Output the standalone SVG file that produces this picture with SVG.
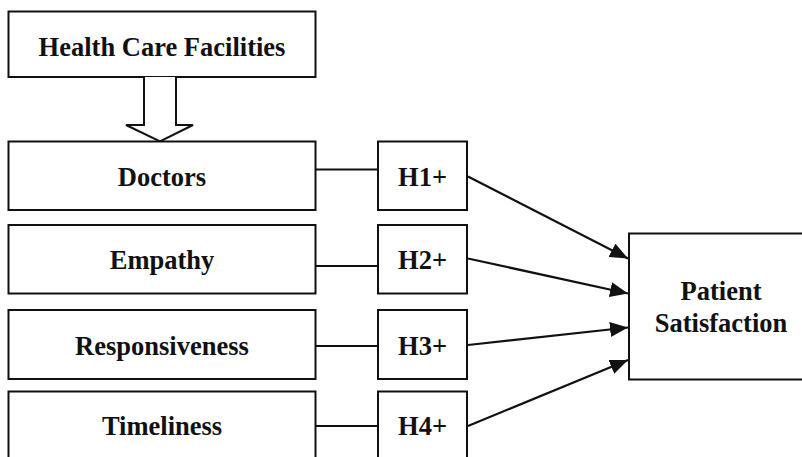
<svg xmlns="http://www.w3.org/2000/svg" width="802" height="457" viewBox="0 0 802 457">
  <style>
    .box { fill: #ffffff; stroke: #111111; stroke-width: 2; }
    .lbl { font-weight: bold; font-size: 26.5px; fill: #111111; text-anchor: middle; }
    .link { stroke: #111111; stroke-width: 2; fill: none; }
    .arrow { stroke: #111111; stroke-width: 2.2; fill: none; marker-end: url(#head); }
  </style>
  <defs>
    <marker id="head" viewBox="0 0 18 15" refX="18" refY="7.5" markerWidth="18" markerHeight="15" markerUnits="userSpaceOnUse" orient="auto">
      <path d="M0,0 L18,7.5 L0,15 Z" fill="#111111"/>
    </marker>
  </defs>

  <rect width="802" height="457" fill="#ffffff"/>

  <g font-family="'Liberation Serif', 'Times New Roman', Times, serif">
    <g id="health-care-facilities">
      <rect class="box" x="8.5" y="11.5" width="307" height="65.5"/>
      <text class="lbl" x="162" y="56">Health Care Facilities</text>
    </g>

    <!-- hollow block arrow into Doctors -->
    <g id="block-arrow">
      <path d="M144,77 L144,125 L126,125 L160,141.5 L193,125 L176,125 L176,77" fill="#ffffff" stroke="#111111" stroke-width="2" stroke-linejoin="miter"/>
    </g>

    <g id="doctors">
      <rect class="box" x="8.5" y="141.5" width="307" height="68.5"/>
      <text class="lbl" x="162" y="186">Doctors</text>
    </g>
    <g id="empathy">
      <rect class="box" x="8.5" y="225" width="307" height="68.5"/>
      <text class="lbl" x="162" y="269">Empathy</text>
    </g>
    <g id="responsiveness">
      <rect class="box" x="8.5" y="310" width="307" height="69"/>
      <text class="lbl" x="162" y="355">Responsiveness</text>
    </g>
    <g id="timeliness">
      <rect class="box" x="8.5" y="391.5" width="307" height="70"/>
      <text class="lbl" x="162" y="435">Timeliness</text>
    </g>

    <g id="h1">
      <rect class="box" x="378" y="141.5" width="89" height="68.5"/>
      <text class="lbl" x="422.5" y="186">H1+</text>
    </g>
    <g id="h2">
      <rect class="box" x="378" y="225" width="89" height="68.5"/>
      <text class="lbl" x="422.5" y="269">H2+</text>
    </g>
    <g id="h3">
      <rect class="box" x="378" y="310" width="89" height="69"/>
      <text class="lbl" x="422.5" y="355">H3+</text>
    </g>
    <g id="h4">
      <rect class="box" x="378" y="391.5" width="89" height="70"/>
      <text class="lbl" x="422.5" y="435">H4+</text>
    </g>

    <g id="patient-satisfaction">
      <rect class="box" x="629" y="233.5" width="190" height="146"/>
      <text class="lbl" x="721" y="300">Patient</text>
      <text class="lbl" x="721" y="331.5">Satisfaction</text>
    </g>
  </g>

  <g id="connectors">
    <line class="link" x1="315.5" y1="169.5" x2="378" y2="169.5"/>
    <line class="link" x1="315.5" y1="266" x2="378" y2="266"/>
    <line class="link" x1="315.5" y1="346" x2="378" y2="346"/>
    <line class="link" x1="315.5" y1="426" x2="378" y2="426"/>
    <line class="arrow" x1="468" y1="176.5" x2="628" y2="258.5"/>
    <line class="arrow" x1="468" y1="258.5" x2="628" y2="293.5"/>
    <line class="arrow" x1="468" y1="345" x2="628" y2="327.5"/>
    <line class="arrow" x1="468" y1="426" x2="628" y2="360"/>
  </g>
</svg>
